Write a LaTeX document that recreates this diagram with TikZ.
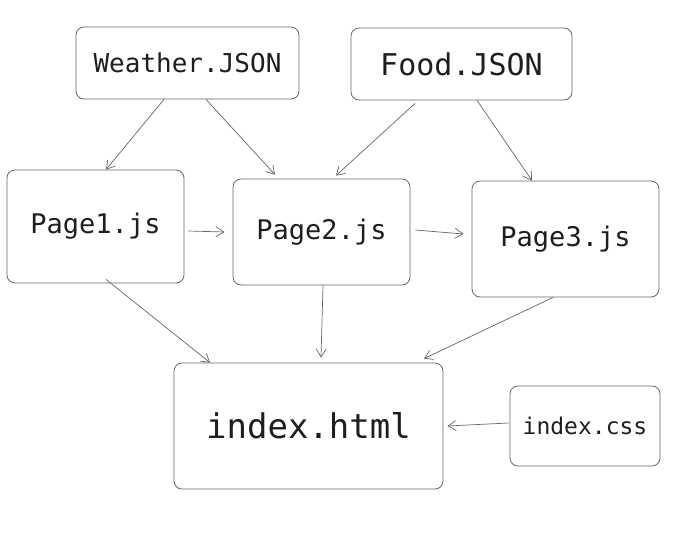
\documentclass[tikz,border=0pt]{standalone}
\usepackage{fontspec}
\setmonofont{DejaVu Sans Mono}
\usetikzlibrary{arrows.meta}
\definecolor{edgegray}{HTML}{666666}
\definecolor{inkblack}{HTML}{1E1E1E}
\tikzset{
  filebox/.style={draw=edgegray,line width=0.8pt,rounded corners=8pt,
    text=inkblack,font=\ttfamily,inner sep=0pt},
  dep/.style={edgegray,line width=0.7pt,
    -{Straight Barb[length=8pt,width=10pt]}}
}
\newcommand\fsz[1]{\fontsize{#1}{#1}\selectfont}

\begin{document}
\begin{tikzpicture}[x=1pt,y=-1pt]
\useasboundingbox (0,0) rectangle (679,547);

% json sources
\node[filebox,minimum width=223,minimum height=72] (wea) at (187.5,63) {\fsz{26}Weather.JSON};
\node[filebox,minimum width=221,minimum height=72] (food) at (461.5,64) {\fsz{30}Food.JSON};

% pages
\node[filebox,minimum width=177,minimum height=113] (p1) at (95.5,226.5) {\fsz{27}Page1.js};
\node[filebox,minimum width=177,minimum height=106] (p2) at (321.5,232) {\fsz{27}Page2.js};
\node[filebox,minimum width=187,minimum height=116] (p3) at (565.5,239) {\fsz{27}Page3.js};

% output
\node[filebox,minimum width=269,minimum height=126] (idx) at (308.5,426) {\fsz{34}index.html};
\node[filebox,minimum width=150,minimum height=80] (css) at (585,426) {\fsz{23}index.css};

\draw[dep] ([xshift=-23.5]wea.south) -- ([xshift=10.5]p1.north);
\draw[dep] ([xshift=18.5]wea.south) -- ([xshift=-46.5,yshift=4]p2.north);
\draw[dep] ([xshift=-46.5,yshift=-3]food.south) -- ([xshift=14.5,yshift=3]p2.north);
\draw[dep] ([xshift=15.5]food.south) -- ([xshift=-33.5]p3.north);
\draw[dep] ([xshift=4,yshift=-4.5]p1.east) -- ([xshift=-8]p2.west);
\draw[dep] ([xshift=5,yshift=2]p2.east) -- ([xshift=-8,yshift=5]p3.west);
\draw[dep] ([xshift=10.5,yshift=4]p1.south) -- ([xshift=-98.5]idx.north);
\draw[dep] ([xshift=1.5]p2.south) -- ([xshift=12.5,yshift=5]idx.north);
\draw[dep] ([xshift=-12.5]p3.south) -- ([xshift=115.5,yshift=4]idx.north);
\draw[dep] ([xshift=-1,yshift=3]css.west) -- ([xshift=4]idx.east);
\end{tikzpicture}
\end{document}
